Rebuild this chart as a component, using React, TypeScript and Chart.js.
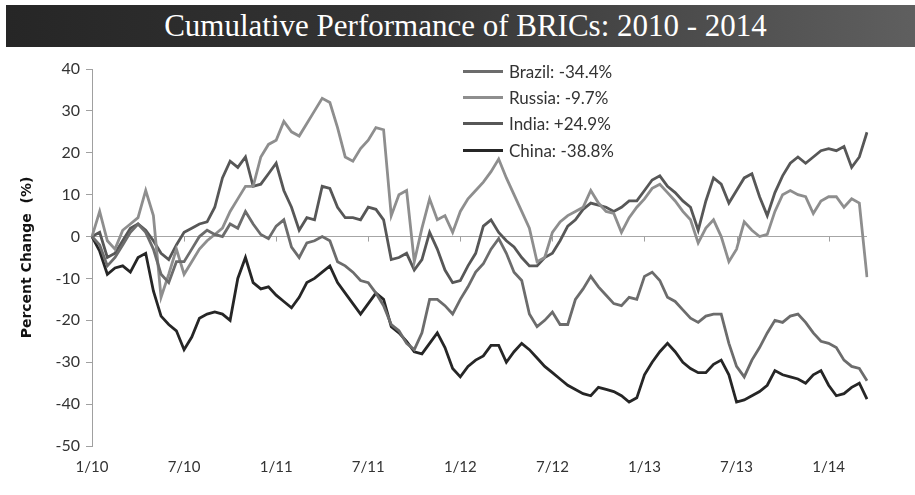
import React, { useEffect, useRef } from "react";
import { Chart, registerables } from "chart.js";

Chart.register(...registerables);

// Half-month observation dates (1st and 15th of each month), Jan 2010 – mid Mar 2014
const periods: string[] = (() => {
  const out: string[] = [];
  for (let i = 0; i < 102; i++) {
    const mIdx = Math.floor(i / 2);
    const month = (mIdx % 12) + 1;
    const yy = String(10 + Math.floor(mIdx / 12)).padStart(2, "0");
    out.push(`${month}/${i % 2 === 0 ? 1 : 15}/${yy}`);
  }
  return out;
})();

const tickLabels = ["1/10", "7/10", "1/11", "7/11", "1/12", "7/12", "1/13", "7/13", "1/14"];

const seriesNames = ["Brazil: -34.4%", "Russia: -9.7%", "India: +24.9%", "China: -38.8%"];
const seriesColors = ["#6c6c6c", "#8e8e8e", "#575757", "#262626"];

const brazil = [
  0, -2, -7, -5, -2, 1, 3, 1, -3, -9, -11, -6, -6, -3, 0, 1.5, 0.5, 0, 3, 2,
  6, 3, 0.5, -0.5, 2.5, 4, -2.5, -5, -1.5, -1, 0, -1, -6, -7, -8.5, -10.5, -11, -13.5, -16.5, -21,
  -22.5, -25.5, -27, -23, -15, -15, -16.5, -18.5, -15, -12, -8.5, -6.5, -3, -0.5, -4, -8.5, -10.5, -18.5, -21.5, -20,
  -18, -21, -21, -15, -12.5, -9.5, -12, -14, -16, -16.5, -14.5, -15, -9.5, -8.5, -10.5, -14.5, -15.5, -17.5, -19.5, -20.5,
  -19, -18.5, -18.5, -25.5, -31, -33.5, -29.5, -26.5, -23, -20, -20.5, -19, -18.5, -20.5, -23, -25, -25.5, -26.5, -29.5, -31,
  -31.5, -34.4,
];

const russia = [
  0, 6, -1, -3, 1.5, 3, 4.5, 11, 5, -14.5, -9, -3, -9, -6, -3, -1, 0.5, 2, 6, 9,
  12, 12, 19, 22, 23, 27.5, 25, 24, 27, 30, 33, 32, 26, 19, 18, 21, 23, 26, 25.5, 5,
  10, 11, -6, 2, 9, 4, 5, 1, 6, 9, 11, 13, 15.5, 18.5, 14, 10, 6, 2, -6, -5,
  1, 3.5, 5, 6, 7, 11, 8, 6, 5.5, 1, 4.5, 7, 9, 11.5, 12.5, 10.5, 8.5, 6, 4, -1.5,
  2, 4, 0, -6, -3, 3.5, 1.5, 0, 0.5, 6, 10, 11, 10, 9.5, 5.5, 8.5, 9.5, 9.5, 7, 9,
  8, -9.7,
];

const india = [
  0, 1, -5, -4, -1, 2, 3, 1.5, -1, -4, -5.5, -2, 1, 2, 3, 3.5, 7, 14, 18, 16.5,
  19, 12, 12.5, 15, 17.5, 11, 7, 1.5, 4.5, 4, 12, 11.5, 7, 4.5, 4.5, 4, 7, 6.5, 4, -5.5,
  -5, -4, -8, -5.5, 1, -3, -8, -11, -10.5, -7, -4, 2.5, 4, 1, -1, -2.5, -5, -7, -7, -5,
  -4, -1, 2.5, 4, 6.5, 8, 7.5, 7, 6, 7, 8.5, 8.5, 11, 13.5, 14.5, 12, 10.5, 8.5, 7, 1.5,
  8.5, 14, 12.5, 8, 11, 14, 15, 9.5, 5, 10.5, 14.5, 17.5, 19, 17.5, 19, 20.5, 21, 20.5, 21.5, 16.5,
  19, 24.9,
];

const china = [
  0, -3.5, -9, -7.5, -7, -8.5, -5, -4, -13, -19, -21, -22.5, -27, -24, -19.5, -18.5, -18, -18.5, -20, -10,
  -5, -11, -12.5, -12, -14, -15.5, -17, -14.5, -11, -10, -8.5, -7, -11, -13.5, -16, -18.5, -16, -13.5, -15, -21.5,
  -23, -25, -27.5, -28, -25.5, -23, -26.5, -31.5, -33.5, -31, -29.5, -28.5, -26, -26, -30, -27.5, -25.5, -27, -29, -31,
  -32.5, -34, -35.5, -36.5, -37.5, -38, -36, -36.5, -37, -38, -39.5, -38.5, -33, -30, -27.5, -25.5, -27.5, -30, -31.5, -32.5,
  -32.5, -30.5, -29.5, -33, -39.5, -39, -38, -37, -35.5, -32, -33, -33.5, -34, -35, -33, -32, -35.5, -38, -37.5, -36,
  -35, -38.8,
];

const yMin = -50;
const yMax = 40;
const yStep = 10;

const FONT = "Lato, 'Open Sans', sans-serif";

function axisLabelFor(label: string): string | null {
  const [m, d, yy] = label.split("/");
  if (d !== "1") return null;
  if (m !== "1" && m !== "7") return null;
  const t = `${m}/${yy}`;
  return tickLabels.includes(t) ? t : null;
}

const zeroTicksPlugin = {
  id: "zeroTicks",
  beforeDatasetsDraw(chart: any) {
    const x = chart.scales.x;
    const y = chart.scales.y;
    const y0 = y.getPixelForValue(0);
    const ctx = chart.ctx;
    ctx.save();
    ctx.strokeStyle = "#a0a0a0";
    ctx.lineWidth = 1;
    periods.forEach((p, i) => {
      if (axisLabelFor(p) && i > 0) {
        const px = Math.round(x.getPixelForValue(i)) + 0.5;
        ctx.beginPath();
        ctx.moveTo(px, y0);
        ctx.lineTo(px, y0 + 5);
        ctx.stroke();
      }
    });
    ctx.restore();
  },
};

export default function App() {
  const canvasRef = useRef<HTMLCanvasElement | null>(null);

  useEffect(() => {
    if (!canvasRef.current) return;
    const values = [brazil, russia, india, china];
    const chart = new Chart(canvasRef.current, {
      type: "line",
      data: {
        labels: periods,
        datasets: values.map((v, i) => ({
          label: seriesNames[i],
          data: v,
          borderColor: seriesColors[i],
          backgroundColor: seriesColors[i],
          borderWidth: 2.8,
          pointRadius: 0,
          tension: 0,
          fill: false,
        })),
      },
      options: {
        responsive: false,
        animation: false,
        events: [],
        layout: { padding: { top: 69, right: 48, left: 0, bottom: 0 } },
        plugins: {
          legend: { display: false },
          tooltip: { enabled: false },
        },
        scales: {
          x: {
            type: "category",
            offset: false,
            grid: { display: false, drawTicks: false },
            border: { display: false },
            ticks: {
              autoSkip: false,
              maxRotation: 0,
              padding: 12,
              color: "#333333",
              font: { family: FONT, size: 15 },
              callback: function (this: any, value: any) {
                return axisLabelFor(this.getLabelForValue(value));
              },
            },
            afterFit: (s: any) => {
              s.height = 49;
            },
          },
          y: {
            min: yMin,
            max: yMax,
            border: { display: true, color: "#a0a0a0", width: 1 },
            grid: {
              drawOnChartArea: true,
              color: (c: any) => (c.tick && c.tick.value === 0 ? "#a6a6a6" : "rgba(0,0,0,0)"),
              lineWidth: 1,
              tickColor: "#a0a0a0",
              tickLength: 6,
            },
            ticks: {
              stepSize: yStep,
              padding: 6,
              color: "#333333",
              font: { family: FONT, size: 16 },
            },
            title: {
              display: true,
              text: "Percent Change  (%)",
              color: "#111111",
              padding: { top: 19, bottom: 0 },
              font: { family: "'DejaVu Sans', sans-serif", size: 14, weight: "bold" },
            },
            afterFit: (s: any) => {
              s.width = 92;
            },
          },
        },
      },
      plugins: [zeroTicksPlugin],
    });
    return () => chart.destroy();
  }, []);

  return (
    <div style={{ position: "absolute", left: 0, top: 0, width: 915, height: 495, background: "#ffffff", overflow: "hidden" }}>
      <canvas ref={canvasRef} width={915} height={495} style={{ position: "absolute", left: 0, top: 0 }} />
      <div
        style={{
          position: "absolute",
          left: 6,
          top: 5,
          width: 909,
          height: 42,
          background: "linear-gradient(to right, #262626 0%, #353535 45%, #5f5f5f 100%)",
          color: "#ffffff",
          display: "flex",
          alignItems: "center",
          justifyContent: "center",
          fontFamily: "'Liberation Serif', 'DejaVu Serif', serif",
          fontSize: 31,
          lineHeight: "42px",
          paddingLeft: 10,
          boxSizing: "border-box",
        }}
      >
        Cumulative Performance of BRICs: 2010 - 2014
      </div>
      <div style={{ position: "absolute", left: 463, top: 58 }}>
        {seriesNames.map((name, i) => (
          <div key={name} style={{ display: "flex", alignItems: "center", height: 26.3 }}>
            <div style={{ width: 40, height: 3, background: seriesColors[i], marginRight: 6 }} />
            <span style={{ fontFamily: FONT, fontSize: 17, color: "#333333", whiteSpace: "nowrap" }}>{name}</span>
          </div>
        ))}
      </div>
    </div>
  );
}
